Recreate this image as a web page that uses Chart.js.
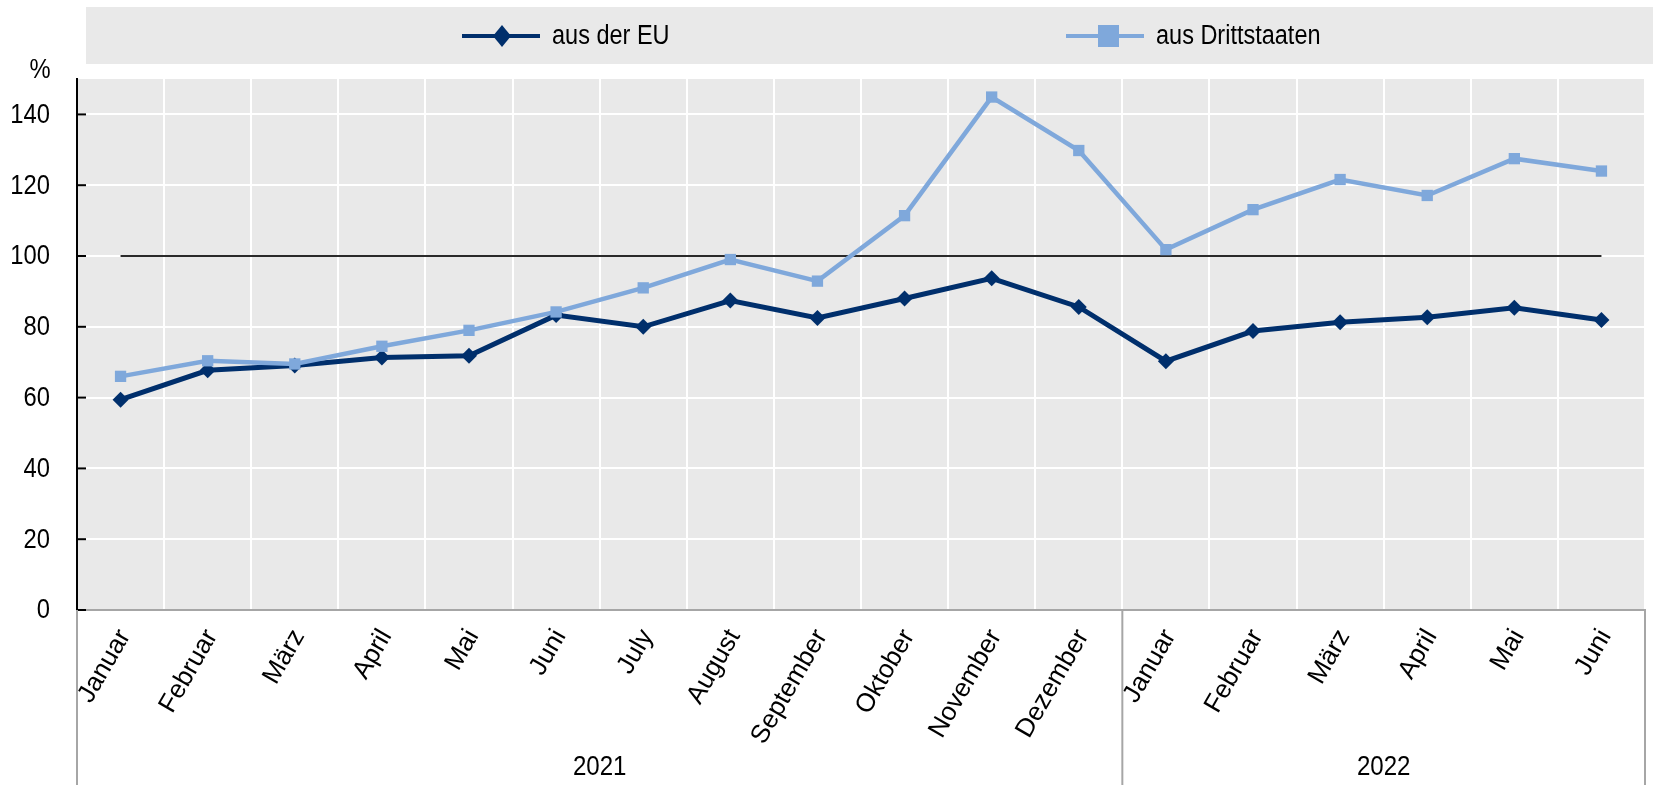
<!DOCTYPE html>
<html>
<head>
<meta charset="utf-8">
<script src="https://cdn.jsdelivr.net/npm/chart.js@4.4.1/dist/chart.umd.min.js"></script>
<style>
  html, body { margin: 0; padding: 0; background: #fff; }
  canvas { display: block; }
</style>
</head>
<body>
<canvas id="chart" width="1653" height="785"></canvas>
<script>
// Monthly values, Jan 2021 - Jun 2022
const MONTHS = ["Januar", "Februar", "März", "April", "Mai", "Juni", "July", "August", "September", "Oktober", "November", "Dezember",
                "Januar", "Februar", "März", "April", "Mai", "Juni"];
const YEARS = ["2021", "2022"];
const YEAR_MONTH_COUNT = [12, 6];
const EU_VALUES = [59.4, 67.7, 69.1, 71.3, 71.8, 83.3, 80.0, 87.4, 82.5, 88.0, 93.7, 85.6, 70.3, 78.8, 81.3, 82.7, 85.4, 81.9];
const THIRD_VALUES = [66.0, 70.4, 69.5, 74.5, 79.0, 84.2, 91.0, 99.0, 92.9, 111.4, 144.9, 129.8, 101.8, 113.1, 121.6, 117.1, 127.5, 124.0];
const SERIES_LABELS = ["aus der EU", "aus Drittstaaten"];
const REFERENCE_LEVEL = 100;

const EU_COLOR = "#002f6c";
const THIRD_COLOR = "#7fa8db";
const PLOT_BG = "#e9e9e9";
const SANS = '"Liberation Sans", Arial, sans-serif';

/* ---------------------------- Drawing helpers ---------------------------- */

// no narrow face is installed, so squeeze the regular one horizontally
function fillNarrow(ctx, text, x, y, align, size = 27, squeeze = 0.88) {
  ctx.save();
  ctx.translate(x, y);
  ctx.scale(squeeze, 1);
  ctx.font = size + "px " + SANS;
  ctx.fillStyle = "#000";
  ctx.textAlign = align;
  ctx.textBaseline = "middle";
  ctx.fillText(text, 0, 0);
  ctx.restore();
}

function drawDiamond(ctx, x, y, hw, hh) {
  ctx.beginPath();
  ctx.moveTo(x, y - hh);
  ctx.lineTo(x + hw, y);
  ctx.lineTo(x, y + hh);
  ctx.lineTo(x - hw, y);
  ctx.closePath();
  ctx.fill();
}

function drawLegendItem(ctx, x, y, color, marker, label) {
  ctx.strokeStyle = color;
  ctx.fillStyle = color;
  ctx.lineWidth = 4;
  ctx.beginPath();
  ctx.moveTo(x, y);
  ctx.lineTo(x + 78, y);
  ctx.stroke();
  if (marker === "diamond") drawDiamond(ctx, x + 40, y, 9, 11);
  else ctx.fillRect(x + 42 - 10, y - 11, 21, 22);
  fillNarrow(ctx, label, x + 90, y + 1, "left", 27, 0.87);
}

const decorPlugin = {
  id: "decor",
  beforeDraw(chart) {
    const { ctx, chartArea: a } = chart;
    ctx.save();
    ctx.fillStyle = PLOT_BG;
    ctx.fillRect(a.left, a.top, a.right - a.left, a.bottom - a.top);
    ctx.fillRect(86, 7, chart.width - 86, 57);
    ctx.restore();
  },
  beforeDatasetsDraw(chart) {
    const { ctx, scales: { x, y } } = chart;
    const py = y.getPixelForValue(REFERENCE_LEVEL);
    ctx.save();
    ctx.strokeStyle = "#2a2a2a";
    ctx.lineWidth = 2;
    ctx.beginPath();
    ctx.moveTo(x.getPixelForValue(0), py);
    ctx.lineTo(x.getPixelForValue(MONTHS.length - 1), py);
    ctx.stroke();
    ctx.restore();
  },
  afterDraw(chart) {
    const { ctx, chartArea: a, scales: { x, y } } = chart;
    ctx.save();

    // inward tick marks and labels on the value axis
    ctx.strokeStyle = "#000";
    ctx.lineWidth = 2;
    y.ticks.forEach((t) => {
      const py = y.getPixelForValue(t.value);
      ctx.beginPath();
      ctx.moveTo(a.left, py);
      ctx.lineTo(a.left + 9, py);
      ctx.stroke();
      fillNarrow(ctx, String(t.value), 50, py + 1, "right");
    });

    // year group separators and labels
    ctx.strokeStyle = "#a6a6a6";
    ctx.lineWidth = 2;
    let start = 0;
    const bounds = [a.left];
    YEAR_MONTH_COUNT.forEach((n) => {
      start += n;
      bounds.push(start >= MONTHS.length ? a.right : (x.getPixelForValue(start - 1) + x.getPixelForValue(start)) / 2);
    });
    bounds.forEach((bx) => {
      ctx.beginPath();
      ctx.moveTo(bx, a.bottom);
      ctx.lineTo(bx, chart.height);
      ctx.stroke();
    });
    YEARS.forEach((yr, i) => fillNarrow(ctx, yr, (bounds[i] + bounds[i + 1]) / 2, 767, "center", 28, 0.86));

    // unit label
    fillNarrow(ctx, "%", 40, 71, "center");

    // legend
    drawLegendItem(ctx, 462, 36, EU_COLOR, "diamond", SERIES_LABELS[0]);
    drawLegendItem(ctx, 1066, 36, THIRD_COLOR, "square", SERIES_LABELS[1]);
    ctx.restore();
  }
};

new Chart(document.getElementById("chart"), {
  type: "line",
  data: {
    labels: MONTHS,
    datasets: [
      {
        label: SERIES_LABELS[0],
        data: EU_VALUES,
        borderColor: EU_COLOR,
        backgroundColor: EU_COLOR,
        borderWidth: 5,
        pointStyle: "rectRot",
        pointRadius: 8,
        pointBorderWidth: 0,
        tension: 0,
        order: 1
      },
      {
        label: SERIES_LABELS[1],
        data: THIRD_VALUES,
        borderColor: THIRD_COLOR,
        backgroundColor: THIRD_COLOR,
        borderWidth: 4.5,
        pointStyle: "rect",
        pointRadius: 8,
        pointBorderWidth: 0,
        tension: 0,
        order: 0
      }
    ]
  },
  options: {
    responsive: false,
    animation: false,
    devicePixelRatio: 1,
    layout: { padding: { top: 79, right: 2, left: 0, bottom: 0 } },
    plugins: { legend: { display: false }, tooltip: { enabled: false } },
    scales: {
      x: {
        offset: true,
        grid: { color: "#ffffff", lineWidth: 2, drawTicks: false, offset: true },
        border: { display: true, color: "#a6a6a6", width: 2 },
        ticks: {
          color: "#000",
          font: { family: SANS, size: 26 },
          minRotation: 60,
          maxRotation: 60,
          autoSkip: false,
          padding: 14,
          labelOffset: 4
        },
        afterFit(scale) {
          scale.height = 175;
          scale.paddingLeft = 0;
          scale.paddingRight = 0;
        }
      },
      y: {
        min: 0,
        max: 150,
        grid: { color: "#ffffff", lineWidth: 2, drawTicks: false },
        border: { display: true, color: "#000", width: 2 },
        ticks: {
          stepSize: 20,
          includeBounds: false,
          color: "rgba(0,0,0,0)",
          font: { family: SANS, size: 27 },
          padding: 27
        },
        afterFit(scale) {
          scale.width = 77;
        }
      }
    }
  },
  plugins: [decorPlugin]
});
</script>
</body>
</html>
